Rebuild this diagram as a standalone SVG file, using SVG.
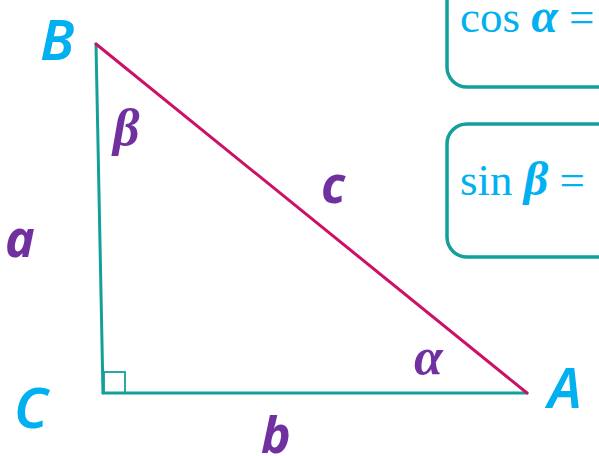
<svg xmlns="http://www.w3.org/2000/svg" width="599" height="456" viewBox="0 0 599 456">
<style>
.bg{fill:#ffffff}
.side{fill:none;stroke:#13a09a;stroke-width:3;stroke-linecap:round}
.hyp{fill:none;stroke:#cc1166;stroke-width:3;stroke-linecap:round}
.sq{fill:none;stroke:#13a09a;stroke-width:1.8}
.box{fill:#ffffff;stroke:#13a09a;stroke-width:3.5}
.vlab{font-family:"Noto Sans","DejaVu Sans",sans-serif;font-style:italic;font-weight:600;font-size:56px;fill:#00b0f0}
.slab{font-family:"Noto Sans","DejaVu Sans",sans-serif;font-style:italic;font-weight:bold;font-size:50px;fill:#7030a0}
.ang{font-family:"Liberation Serif","DejaVu Serif",serif;font-style:italic;font-weight:bold;font-size:52px;fill:#7030a0}
.fn{font-family:"Liberation Serif","DejaVu Serif",serif;font-size:45px;fill:#00b0f0}
.fg{font-style:italic;font-weight:bold;font-size:48px}
</style>
<rect class="bg" x="0" y="0" width="599" height="456"/>
<g id="box-cos">
<rect class="box" x="447" y="-40" width="200" height="127" rx="20" ry="20"/>
<text class="fn" x="460" y="32">cos <tspan class="fg">α</tspan> =</text>
</g>
<g id="box-sin">
<rect class="box" x="447" y="124" width="200" height="133" rx="20" ry="20"/>
<text class="fn" x="460" y="195">sin <tspan class="fg">β</tspan> =</text>
</g>
<g id="connectors">
<line id="side-a" class="side" x1="96" y1="44" x2="103" y2="393"/>
<line id="side-b" class="side" x1="103" y1="393" x2="527" y2="393"/>
<line id="side-c" class="hyp" x1="96" y1="44" x2="527" y2="393"/>
</g>
<g id="vertex-B"><text class="vlab" x="40" y="60">B</text></g>
<g id="vertex-C">
<rect class="sq" x="104" y="372" width="21" height="21"/>
<text class="vlab" x="14" y="428">C</text>
</g>
<g id="vertex-A"><text class="vlab" x="548" y="408">A</text></g>
<g id="label-a"><text class="slab" x="5" y="257">a</text></g>
<g id="label-b"><text class="slab" x="261" y="453">b</text></g>
<g id="label-c"><text class="slab" x="321" y="203">c</text></g>
<g id="angle-alpha"><text class="ang" x="414" y="374">α</text></g>
<g id="angle-beta"><text class="ang" x="113" y="145">β</text></g>
</svg>
